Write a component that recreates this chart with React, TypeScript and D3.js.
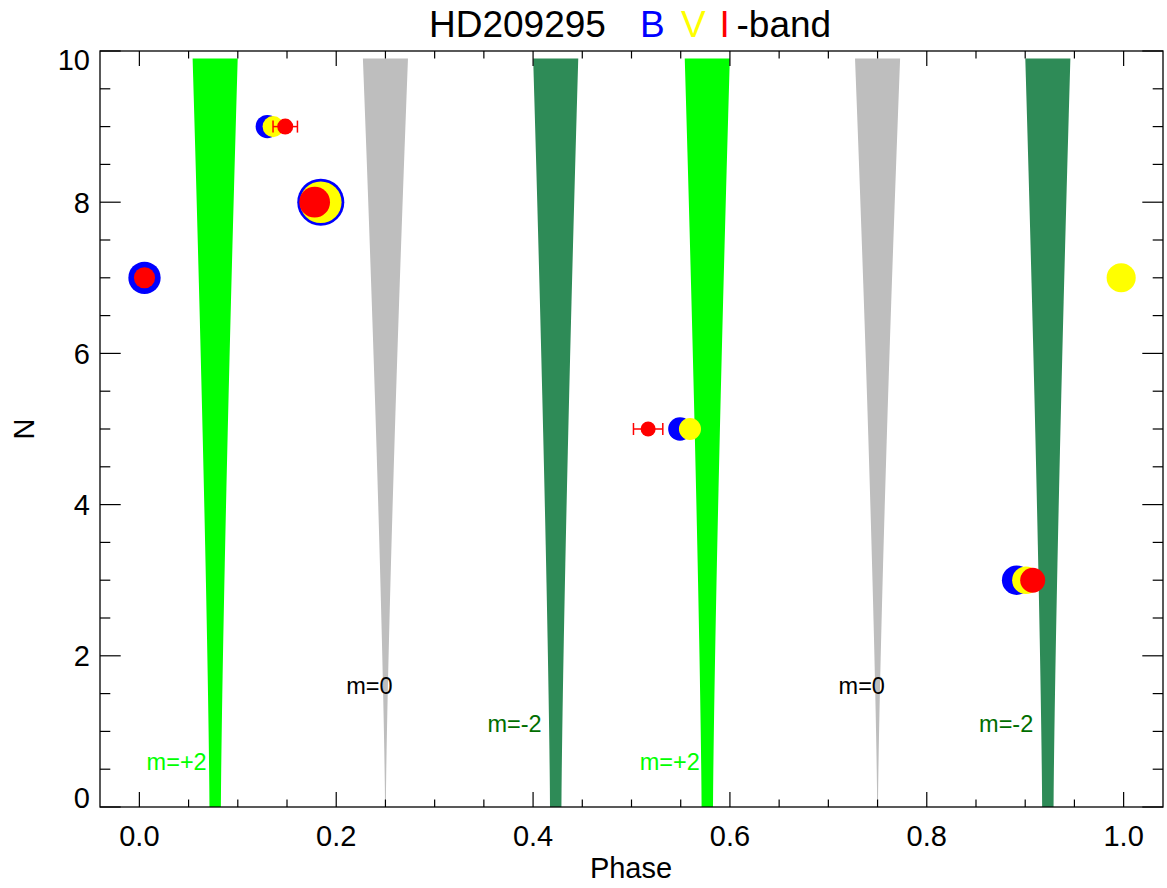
import React from "react";
import * as d3 from "d3";

// ---- data ----
const orders = [9, 8, 7, 5, 3];
const phaseB = [0.130, 0.1843, 0.0052, 0.5493, 0.8913];
const phaseV = [0.1359, 0.1843, 0.9975, 0.5594, 0.9007];
const phaseI = [0.1482, 0.1781, 0.0052, 0.5169, 0.9076];
const ampB = [7.3, 14.7, 10.1, 7.4, 9.2];
const ampV = [6.6, 13.0, 9.1, 6.9, 8.6];
const ampI = [5.0, 9.6, 6.6, 4.7, 7.8];
const errI = [0.0124, 0, 0, 0.0149, 0];

const wedgeCenters = [0.077, 0.25, 0.423, 0.577, 0.75, 0.923];
const wedgeModes = ["+2", "0", "-2", "+2", "0", "-2"];
const wedgeTopHalf = 0.0229;
const wedgeBottomHalf = [0.0058, 0.0004, 0.0058, 0.0058, 0.0004, 0.0058];
const wedgeTopN = 9.9;

const labelText = ["m=+2", "m=0", "m=-2", "m=+2", "m=0", "m=-2"];
const labelPhase = [0.0684, 0.2573, 0.4087, 0.5695, 0.7575, 0.9082];
const labelN = [0.49, 1.49, 0.99, 0.49, 1.49, 0.99];

const xMajor = [0, 0.2, 0.4, 0.6, 0.8, 1.0];
const xMajorLabels = ["0.0", "0.2", "0.4", "0.6", "0.8", "1.0"];
const yMajor = [0, 2, 4, 6, 8, 10];
const yMajorLabels = ["0", "2", "4", "6", "8", "10"];

const W = 1167;
const H = 888;
const L = 100, R = 1163, T = 51, B = 807;
const FONT = "'Liberation Sans', Arial, Helvetica, sans-serif";

const modeColor: Record<string, string> = { "+2": "#00ff00", "0": "#bebebe", "-2": "#2e8b57" };
const labelColor: Record<string, string> = { "+2": "#00ff00", "0": "#000000", "-2": "#006e00" };

export default function App() {
  const x = d3.scaleLinear().domain([-0.04, 1.04]).range([L, R]);
  const y = d3.scaleLinear().domain([0, 10]).range([B, T]);
  const r = d3.scaleLinear().domain([0, 10]).range([0, 16]);

  const xMinor = d3.range(0, 1.0001, 0.05).filter((v) => Math.abs(v * 5 - Math.round(v * 5)) > 1e-6);
  const yMinor = d3.range(0.5, 10, 0.5).filter((v) => Math.abs(v / 2 - Math.round(v / 2)) > 1e-6);

  const profile = d3.range(0, 41).map((i) => (i / 40) * wedgeTopN);
  const wedgePath = (c: number, bh: number) => {
    const area = d3
      .area<number>()
      .y((n) => y(n))
      .x0((n) => x(c - (bh + (wedgeTopHalf - bh) * Math.pow(n / wedgeTopN, 1.3))))
      .x1((n) => x(c + (bh + (wedgeTopHalf - bh) * Math.pow(n / wedgeTopN, 1.3))));
    return area(profile) || "";
  };

  const series = [
    { ph: phaseB, amp: ampB, color: "#0000ff" },
    { ph: phaseV, amp: ampV, color: "#ffff00" },
    { ph: phaseI, amp: ampI, color: "#ff0000" },
  ];

  return (
    <svg width={W} height={H} style={{ position: "absolute", left: 0, top: 0, background: "#fff" }} fontFamily={FONT}>
      <rect x={0} y={0} width={W} height={H} fill="#fff" />
      {/* wedges */}
      {wedgeCenters.map((c, i) => (
        <path key={"w" + i} d={wedgePath(c, wedgeBottomHalf[i])} fill={modeColor[wedgeModes[i]]} />
      ))}
      {/* wedge labels */}
      {labelText.map((t, i) => (
        <text key={"l" + i} x={x(labelPhase[i])} y={y(labelN[i])} textAnchor="end" fontSize={23.5} fill={labelColor[wedgeModes[i]]}>
          {t}
        </text>
      ))}
      {/* points: B, V, then I error bars, then I */}
      {series.slice(0, 2).map((s, si) =>
        orders.map((n, i) => (
          <circle key={`p${si}-${i}`} cx={x(s.ph[i])} cy={y(n)} r={r(s.amp[i])} fill={s.color} />
        ))
      )}
      {orders.map((n, i) =>
        errI[i] > 0 ? (
          <g key={"e" + i} stroke="#ff0000" strokeWidth={1.5}>
            <line x1={x(phaseI[i] - errI[i])} x2={x(phaseI[i] + errI[i])} y1={y(n)} y2={y(n)} />
            <line x1={x(phaseI[i] - errI[i])} x2={x(phaseI[i] - errI[i])} y1={y(n) - 6} y2={y(n) + 6} />
            <line x1={x(phaseI[i] + errI[i])} x2={x(phaseI[i] + errI[i])} y1={y(n) - 6} y2={y(n) + 6} />
          </g>
        ) : null
      )}
      {orders.map((n, i) => (
        <circle key={`pI-${i}`} cx={x(phaseI[i])} cy={y(n)} r={r(ampI[i])} fill="#ff0000" />
      ))}
      {/* frame */}
      <rect x={L} y={T} width={R - L} height={B - T} fill="none" stroke="#000" strokeWidth={1.3} />
      {/* x ticks */}
      <g stroke="#000" strokeWidth={1.2}>
        {xMajor.map((v) => (
          <g key={"xm" + v}>
            <line x1={x(v)} x2={x(v)} y1={B} y2={B - 15} />
            <line x1={x(v)} x2={x(v)} y1={T} y2={T + 15} />
          </g>
        ))}
        {xMinor.map((v) => (
          <g key={"xn" + v}>
            <line x1={x(v)} x2={x(v)} y1={B} y2={B - 7.5} />
            <line x1={x(v)} x2={x(v)} y1={T} y2={T + 7.5} />
          </g>
        ))}
        {yMajor.map((v) => (
          <g key={"ym" + v}>
            <line x1={L} x2={L + 20.7} y1={y(v)} y2={y(v)} />
            <line x1={R} x2={R - 20.7} y1={y(v)} y2={y(v)} />
          </g>
        ))}
        {yMinor.map((v) => (
          <g key={"yn" + v}>
            <line x1={L} x2={L + 10.3} y1={y(v)} y2={y(v)} />
            <line x1={R} x2={R - 10.3} y1={y(v)} y2={y(v)} />
          </g>
        ))}
      </g>
      {/* tick labels */}
      {xMajor.map((v, i) => (
        <text key={"xl" + v} x={x(v)} y={846} textAnchor="middle" fontSize={29} fill="#000">
          {xMajorLabels[i]}
        </text>
      ))}
      {yMajor.map((v, i) => {
        let base = y(v) + 10.5;
        if (v === 10) base = 70;
        if (v === 0) base = 808;
        return (
          <text key={"yl" + v} x={90} y={base} textAnchor="end" fontSize={29} fill="#000">
            {yMajorLabels[i]}
          </text>
        );
      })}
      {/* axis titles */}
      <text x={631} y={878} textAnchor="middle" fontSize={29} fill="#000">Phase</text>
      <text transform="translate(34,429) rotate(-90)" textAnchor="middle" fontSize={29} fill="#000">N</text>
      {/* title */}
      <g fontSize={37}>
        <text x={429} y={37} fill="#000">HD209295</text>
        <text x={640} y={37} fill="#0000ff">B</text>
        <text x={681} y={37} fill="#ffff00">V</text>
        <text x={719.5} y={37} fill="#ff0000">I</text>
        <text x={736.5} y={37} fill="#000">-band</text>
      </g>
    </svg>
  );
}
